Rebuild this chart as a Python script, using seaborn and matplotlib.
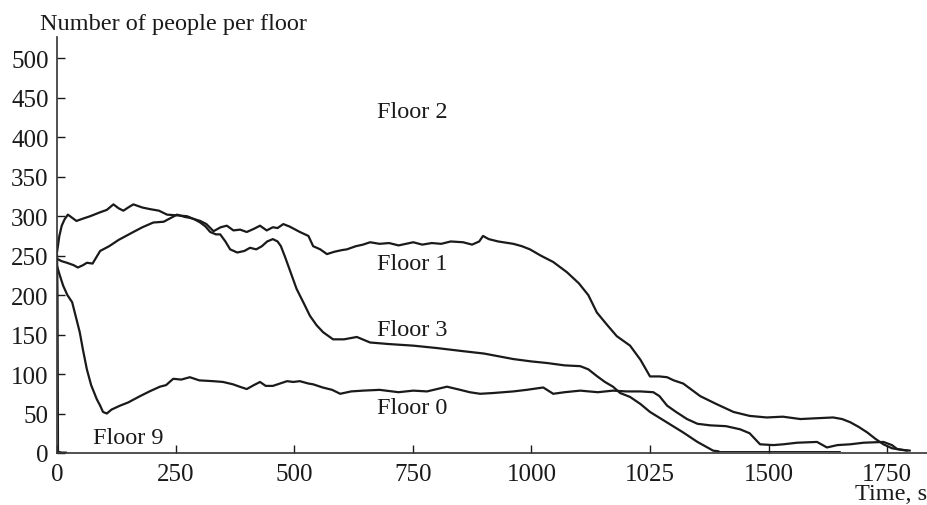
import pandas as pd
import matplotlib.pyplot as plt
import numpy as np
import seaborn as sns

# values (time in s, people on the floor)
t_floor1 = [0, 10, 21, 35, 44, 55, 63, 75, 91, 110, 130, 161, 180, 203, 225, 253, 270, 280, 302, 315,
            330, 345, 358, 372, 386, 400, 415, 428, 442, 455, 465, 477, 490, 512, 530, 540, 555, 569,
            585, 600, 611, 630, 645, 660, 680, 700, 720, 751, 770, 790, 810, 830, 856, 875, 890, 898,
            910, 930, 962, 980, 997, 1020, 1046, 1075, 1100, 1120, 1138, 1160, 1180, 1208, 1230, 1250,
            1270, 1286, 1300, 1320, 1356, 1390, 1426, 1460, 1496, 1530, 1567, 1600, 1636, 1655, 1672,
            1690, 1708, 1725, 1742, 1760, 1780, 1798]
n_floor1 = [246, 243, 241, 238, 235, 238, 241, 240, 256, 262, 270, 280, 286, 292, 293, 302, 299, 298, 294, 290,
            281, 286, 288, 282, 283, 280, 284, 288, 282, 286, 285, 290, 287, 280, 275, 262, 258, 252,
            255, 257, 258, 262, 264, 267, 265, 266, 263, 267, 264, 266, 265, 268, 267, 264, 268, 275,
            271, 268, 265, 262, 258, 250, 242, 229, 215, 200, 178, 162, 148, 136, 118, 97,
            97, 96, 92, 88, 72, 62, 52, 47, 45, 46, 43, 44, 45, 43, 39,
            33, 26, 18, 11, 6, 4, 3]

t_floor3 = [0, 5, 10, 16, 23, 32, 41, 55, 70, 91, 105, 119, 130, 140, 150, 161, 180, 196, 215, 232, 255,
            274, 290, 302, 313, 323, 335, 344, 355, 365, 380, 395, 407, 420, 432, 443, 455, 465, 472,
            481, 493, 505, 520, 533, 547, 561, 582, 605, 632, 660, 700, 751, 800, 856, 900, 962, 1000,
            1033, 1070, 1103, 1120, 1139, 1155, 1172, 1187, 1208, 1230, 1250, 1285, 1320, 1350, 1383, 1395]
n_floor3 = [254, 275, 288, 296, 302, 298, 294, 297, 300, 305, 308, 315, 310, 307, 311, 315, 311, 309, 307, 302, 301,
            300, 296, 292, 287, 280, 277, 277, 268, 258, 254, 256, 260, 258, 262, 268, 271, 268, 262,
            248, 228, 208, 190, 174, 162, 153, 144, 144, 147, 140, 138, 136, 133, 129, 126, 119, 116,
            114, 111, 110, 106, 97, 90, 84, 76, 71, 62, 52, 39, 26, 14, 3, 2]

# thin flat tail near zero after floor 3 empties
t_tail = [1395, 1650]
n_tail = [2, 2]

t_floor0 = [0, 6, 13, 22, 32, 40, 48, 55, 63, 72, 84, 91, 97, 105, 115, 133, 150, 175, 195, 217, 230, 245,
            262, 280, 300, 329, 350, 371, 385, 400, 415, 428, 440, 455, 470, 485, 498, 512, 530, 540,
            560, 580, 597, 620, 645, 680, 720, 751, 780, 822, 850, 870, 892, 920, 962, 990, 1025, 1046,
            1070, 1103, 1140, 1172, 1200, 1230, 1257, 1270, 1286, 1305, 1328, 1350, 1377, 1410, 1440,
            1460, 1482, 1510, 1531, 1560, 1602, 1623, 1645, 1672, 1700, 1742, 1760, 1771, 1792]
n_floor0 = [237, 225, 212, 200, 191, 172, 153, 130, 106, 86, 68, 60, 52, 50, 55, 60, 64, 72, 78, 84, 86, 94,
            93, 96, 92, 91, 90, 87, 84, 81, 86, 90, 85, 85, 88, 91, 90, 91, 88, 87,
            83, 80, 75, 78, 79, 80, 77, 79, 78, 84, 80, 77, 75, 76, 78, 80, 83, 75,
            77, 79, 77, 79, 78, 78, 77, 72, 60, 52, 43, 37, 35, 34, 30,
            25, 11, 10, 11, 13, 14, 7, 10, 11, 13, 14, 10, 5, 3]

t_floor9 = [1, 2, 3, 10, 20]
n_floor9 = [252, 200, 2, 1, 1]

floor_labels = ["Floor 2", "Floor 1", "Floor 3", "Floor 0", "Floor 9"]
label_t = [675, 675, 675, 675, 75]
label_n = [433, 240, 157, 57, 20]

xticks = [0, 250, 500, 750, 1000, 1250, 1500, 1750]
xtick_labels = ["0", "250", "500", "750", "1000", "1025", "1500", "1750"]
yticks = np.arange(0, 501, 50)

series = [(t_floor1, n_floor1, 1.6), (t_floor3, n_floor3, 1.6), (t_floor0, n_floor0, 1.6),
          (t_tail, n_tail, 0.7), (t_floor9, n_floor9, 1.0)]

sns.set_style("ticks")
plt.rcParams['font.family'] = ['Liberation Serif', 'DejaVu Serif']

fig = plt.figure(figsize=(9.28, 5.06), dpi=100)
ax = fig.add_axes([0.0614, 0.1028, 0.9386, 0.822])

for t, n, lw in series:
    df = pd.DataFrame({"t": t, "n": n})
    sns.lineplot(data=df, x="t", y="n", color="#1a1a1a", linewidth=lw, estimator=None, sort=False, ax=ax)

for lab, tx, ny in zip(floor_labels, label_t, label_n):
    ax.text(tx, ny, lab, ha="left", va="center", fontsize=17.5, color="#1a1a1a")

ax.set_xlim(0, 1836)
ax.set_ylim(0, 527)
ax.set_xticks(xticks)
ax.set_xticklabels(xtick_labels)
ax.set_yticks(yticks)
ax.tick_params(direction="in", length=6, width=1, labelsize=18, colors="#1a1a1a")
ax.tick_params(axis="y", pad=6)
ax.tick_params(axis="x", pad=7)
ax.set_xlabel("")
ax.set_ylabel("")
for side in ["top", "right"]:
    ax.spines[side].set_visible(False)
for side in ["left", "bottom"]:
    ax.spines[side].set_linewidth(1.2)
    ax.spines[side].set_color("#333333")

fig.text(0.043, 0.952, "Number of people per floor", ha="left", va="center", fontsize=17.5, color="#1a1a1a")
fig.text(0.999, 0.022, "Time, s", ha="right", va="center", fontsize=17.5, color="#1a1a1a")

fig.savefig("out.png", dpi=100)
